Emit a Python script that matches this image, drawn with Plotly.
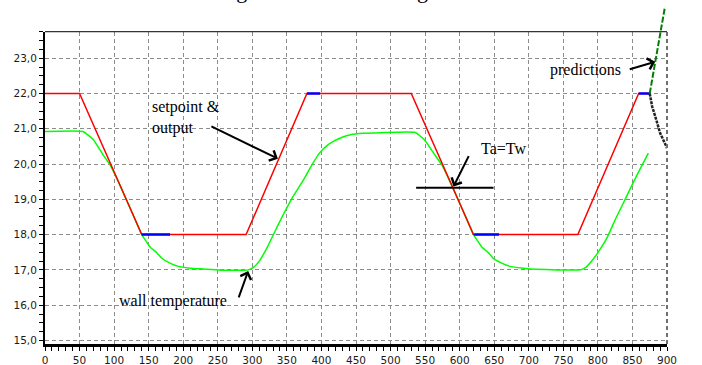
import plotly.graph_objects as go

# ---------------- data ----------------
# setpoint (red)
sp_x = [0, 50, 140, 291, 379, 530, 620, 771, 859, 874]
sp_y = [22, 22, 18, 18, 22, 22, 18, 18, 22, 22]

# controller output where it separates from the setpoint (blue)
out_x = [140, 181, None, 379, 398, None, 621, 657, None, 859, 875]
out_y = [18, 18, None, 22, 22, None, 18, 18, None, 22, 22]

# wall temperature (green)
wall_x = [0, 55, 70, 84, 94, 110, 125, 140, 145, 152, 162, 169, 180, 193, 210, 224, 250, 294,
          302, 310, 321, 332, 343, 358, 374, 386, 398, 408, 417, 430, 442, 460, 485, 535,
          549, 564, 574, 590, 605, 620, 625, 632, 642, 649, 660, 673, 692, 710, 740, 775,
          783, 791, 801, 813, 825, 836, 847, 860, 873]
wall_y = [20.92, 20.92, 20.69, 20.26, 19.98, 19.33, 18.67, 18.0, 17.85, 17.65, 17.48, 17.33, 17.2, 17.1, 17.05, 17.03, 17.0, 17.0,
          17.08, 17.25, 17.62, 18.06, 18.5, 19.05, 19.55, 19.97, 20.33, 20.52, 20.64, 20.76, 20.83, 20.87, 20.89, 20.9,
          20.69, 20.26, 19.98, 19.33, 18.67, 18.0, 17.85, 17.65, 17.48, 17.32, 17.2, 17.1, 17.05, 17.02, 17.0, 17.0,
          17.08, 17.25, 17.52, 17.9, 18.42, 18.86, 19.31, 19.82, 20.31]

# predictions
pred_low_x = [875, 878.5, 883, 890, 899, 900]
pred_low_y = [22, 21.63, 21.35, 20.88, 20.5, 20.45]
pred_high_x = [875, 886, 897]
pred_high_y = [22, 23.2, 24.45]

# Ta = Tw marker line
tw_x = [537, 649]
tw_y = [19.33, 19.33]

x_ticks = list(range(0, 901, 50))
y_ticks = [15, 16, 17, 18, 19, 20, 21, 22, 23]

# ---------------- layout constants ----------------
Y_MIN, Y_MAX = 14.9, 23.75
DOM_TOP = 0.9212
Y2_MAX = Y_MIN + (Y_MAX - Y_MIN) / DOM_TOP

fig = go.Figure()

fig.add_trace(go.Scatter(x=wall_x, y=wall_y, mode="lines", line_shape="spline",
                         line=dict(color="#00ff00", width=1.5, smoothing=0.4), hoverinfo="skip"))
fig.add_trace(go.Scatter(x=sp_x, y=sp_y, mode="lines",
                         line=dict(color="#ff0000", width=1.5), hoverinfo="skip"))
fig.add_trace(go.Scatter(x=out_x, y=out_y, mode="lines", connectgaps=False,
                         line=dict(color="#0000ff", width=2.5), hoverinfo="skip"))
fig.add_trace(go.Scatter(x=tw_x, y=tw_y, mode="lines",
                         line=dict(color="black", width=2), hoverinfo="skip"))
fig.add_trace(go.Scatter(x=pred_low_x, y=pred_low_y, mode="lines",
                         line=dict(color="#222222", width=2.5, dash="3px,1px"), hoverinfo="skip"))
fig.add_trace(go.Scatter(x=pred_high_x, y=pred_high_y, mode="lines", xaxis="x2", yaxis="y2",
                         line=dict(color="#008000", width=2, dash="6px,2px"), hoverinfo="skip"))

tick_font = dict(family="DejaVu Sans", size=10.5, color="#1a1a1a")
grid_kw = dict(showgrid=True, gridcolor="#8c8c8c", gridwidth=1, griddash="4px,3px")

fig.update_layout(
    width=702, height=365,
    margin=dict(l=45, r=35, t=5, b=21),
    paper_bgcolor="white", plot_bgcolor="rgba(0,0,0,0)",
    showlegend=False,
    separators=",.",
    xaxis=dict(range=[0, 900], domain=[0, 1], anchor="y", automargin=False,
               tickmode="array", tickvals=x_ticks,
               ticks="outside", ticklen=4, tickcolor="black", tickwidth=1,
               minor=dict(dtick=10, ticks="outside", ticklen=4, tickcolor="black", showgrid=False),
               showline=True, linecolor="black", linewidth=3,
               zeroline=False, tickfont=tick_font, **grid_kw),
    yaxis=dict(range=[Y_MIN, Y_MAX], domain=[0, DOM_TOP], anchor="x", automargin=False,
               tickmode="array", tickvals=y_ticks, tickformat=".1f",
               ticks="outside", ticklen=4, tickcolor="black", tickwidth=1,
               minor=dict(dtick=0.25, tick0=15, ticks="outside", ticklen=4, tickcolor="black", showgrid=False),
               showline=True, linecolor="black", linewidth=2,
               zeroline=False, tickfont=tick_font, **grid_kw),
    xaxis2=dict(range=[0, 900], domain=[0, 1], anchor="y2", visible=False, showgrid=False,
                zeroline=False, automargin=False),
    yaxis2=dict(range=[Y_MIN, Y2_MAX], domain=[0, 1], anchor="x2", visible=False, showgrid=False,
                zeroline=False, automargin=False),
)

# plot frame: solid top, dashed right
fig.add_shape(type="line", xref="x domain", yref="y domain", x0=0, x1=1, y0=1, y1=1,
              line=dict(color="black", width=1))
fig.add_shape(type="line", xref="x domain", yref="y domain", x0=1, x1=1, y0=0, y1=1,
              line=dict(color="#707070", width=2, dash="4px,3px"))

serif = dict(family="Liberation Serif", size=16, color="black")
arrow_kw = dict(showarrow=True, arrowhead=4, arrowsize=1.1, arrowwidth=2, arrowcolor="black",
                axref="pixel", ayref="pixel", text="")

annotations = [
    dict(x=152, y=21.32, xref="x", yref="y", text="setpoint &amp;<br>output", showarrow=False,
         xanchor="left", yanchor="middle", align="left", font=serif),
    dict(x=337, y=20.15, xref="x", yref="y", ax=-68, ay=-33, **arrow_kw),
    dict(x=663, y=20.43, xref="x", yref="y", text="Ta=Tw", showarrow=False,
         xanchor="center", yanchor="middle", font=serif),
    dict(x=591, y=19.36, xref="x", yref="y", ax=16, ay=-32, **arrow_kw),
    dict(x=185, y=16.13, xref="x", yref="y", text="wall temperature", showarrow=False,
         xanchor="center", yanchor="middle", font=serif),
    dict(x=294, y=16.97, xref="x", yref="y", ax=-10, ay=28, **arrow_kw),
    dict(x=782, y=22.67, xref="x", yref="y", text="predictions", showarrow=False,
         xanchor="center", yanchor="middle", font=serif),
    dict(x=883, y=22.9, xref="x", yref="y", ax=-27, ay=8, **arrow_kw),
    dict(x=0.4936, y=1.0442, xref="paper", yref="paper", text="Figure 5: Test of the algorithm",
         showarrow=False, xanchor="center", yanchor="middle",
         font=dict(family="Liberation Serif", size=22, color="black")),
]
fig.update_layout(annotations=annotations)

fig.write_html("out.html", config={"displayModeBar": False},
               post_script="document.body.style.margin='0px';")
